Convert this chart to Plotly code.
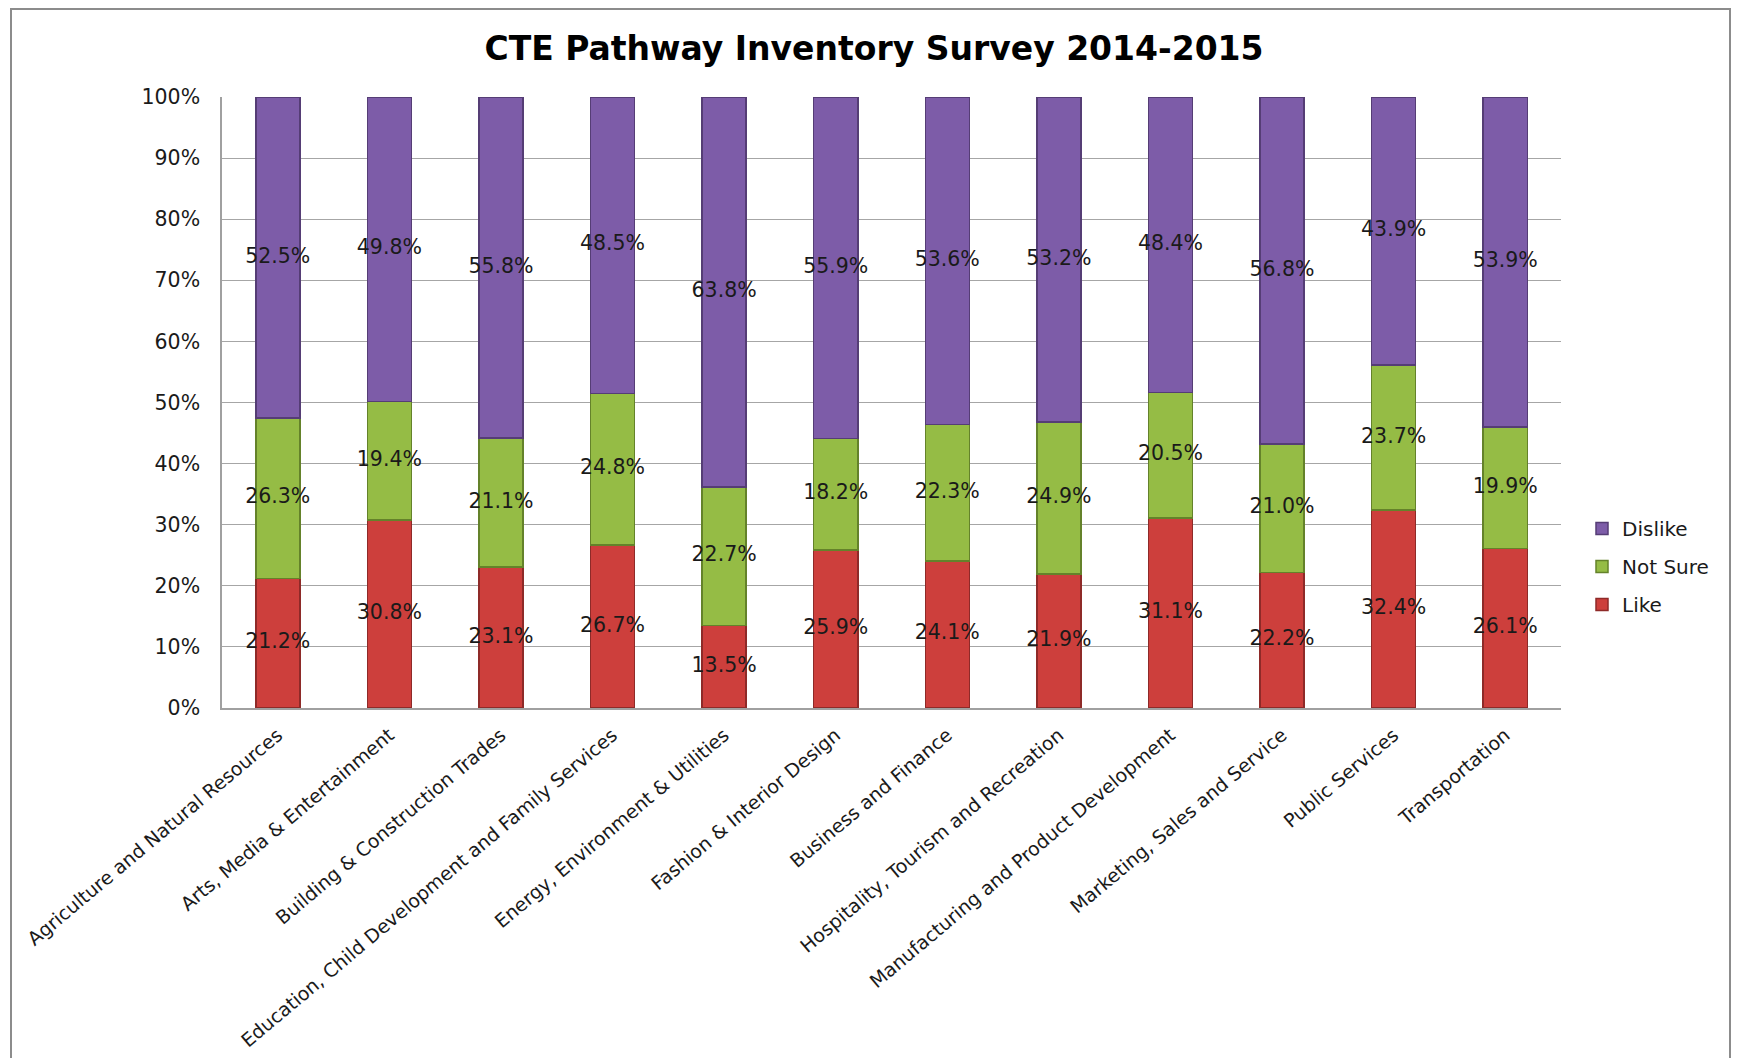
import plotly.graph_objects as go

categories = [
    "Agriculture and Natural Resources",
    "Arts, Media & Entertainment",
    "Building & Construction Trades",
    "Education, Child Development and Family Services",
    "Energy, Environment & Utilities",
    "Fashion & Interior Design",
    "Business and Finance",
    "Hospitality, Tourism and Recreation",
    "Manufacturing and Product Development",
    "Marketing, Sales and Service",
    "Public Services",
    "Transportation",
]
like = [21.2, 30.8, 23.1, 26.7, 13.5, 25.9, 24.1, 21.9, 31.1, 22.2, 32.4, 26.1]
not_sure = [26.3, 19.4, 21.1, 24.8, 22.7, 18.2, 22.3, 24.9, 20.5, 21.0, 23.7, 19.9]
dislike = [52.5, 49.8, 55.8, 48.5, 63.8, 55.9, 53.6, 53.2, 48.4, 56.8, 43.9, 53.9]

FONT = "DejaVu Sans"
# page has an 8px body margin, so the figure is 8px smaller than the window
W, H = 1733, 1050
L, R, T, B = 214, 180, 89, 350
pw, ph = W - L - R, H - T - B

def px(x):
    return (x - L) / pw

def py(y):
    return (H - B - y) / ph

series = [
    ("Like", like, "#CD3F3C", "#8E2A28", 3),
    ("Not Sure", not_sure, "#95BC45", "#64822A", 2),
    ("Dislike", dislike, "#7D5CA8", "#553D75", 1),
]

fig = go.Figure()
base = [0.0] * len(categories)
label_traces = []
for name, vals, col, edge, rank in series:
    fracs = [v / 100 for v in vals]
    fig.add_trace(go.Bar(
        name=name, x=categories, y=fracs, width=0.395,
        marker=dict(color=col, line=dict(color=edge, width=1.5)),
        legendgroup=name, legendrank=rank,
    ))
    centers = [b + f / 2 for b, f in zip(base, fracs)]
    label_traces.append(go.Scatter(
        x=categories, y=centers, mode="text",
        text=[f"{v:.1f}%" for v in vals],
        textfont=dict(family=FONT, size=20.5, color="#1a1a1a"),
        showlegend=False, hoverinfo="skip",
    ))
    base = [b + f for b, f in zip(base, fracs)]

for t in label_traces:
    fig.add_trace(t)

fig.update_layout(
    width=W, height=H,
    margin=dict(l=L, r=R, t=T, b=B, autoexpand=False),
    barmode="stack",
    paper_bgcolor="white", plot_bgcolor="white",
    font=dict(family=FONT, size=20, color="#1a1a1a"),
    title=dict(
        text="<b>CTE Pathway Inventory Survey 2014-2015</b>",
        x=866 / W, xanchor="center", xref="container",
        y=1 - 40 / H, yanchor="middle", yref="container",
        font=dict(family=FONT, size=33, color="#000000"),
    ),
    legend=dict(
        x=px(1574), xanchor="left", y=py(501), yanchor="top",
        traceorder="grouped", tracegroupgap=9,
        font=dict(family=FONT, size=20, color="#1a1a1a"),
        itemwidth=30,
    ),
    showlegend=True,
)
fig.update_xaxes(
    range=[-0.5, len(categories) - 0.5], automargin=False,
    tickangle=-40, showline=True, linecolor="#A0A0A0", linewidth=1.5,
    tickfont=dict(family=FONT, size=19, color="#1a1a1a"),
    showgrid=False, ticks="", ticklabelshift=0, ticklabelstandoff=7,
)
fig.update_yaxes(
    range=[0, 1], dtick=0.1, tickformat=".0%", automargin=False,
    showline=True, linecolor="#A0A0A0", linewidth=1.5,
    gridcolor="#A6A6A6", gridwidth=1,
    tickfont=dict(family=FONT, size=20.5, color="#1a1a1a"),
    ticklabelstandoff=16, zeroline=False,
)
fig.add_shape(
    type="rect", xref="paper", yref="paper",
    x0=px(3), x1=px(1722), y0=py(1070), y1=py(1),
    line=dict(color="#8C8C8C", width=2), fillcolor="rgba(0,0,0,0)",
    layer="below",
)

fig.write_html("out.html")
